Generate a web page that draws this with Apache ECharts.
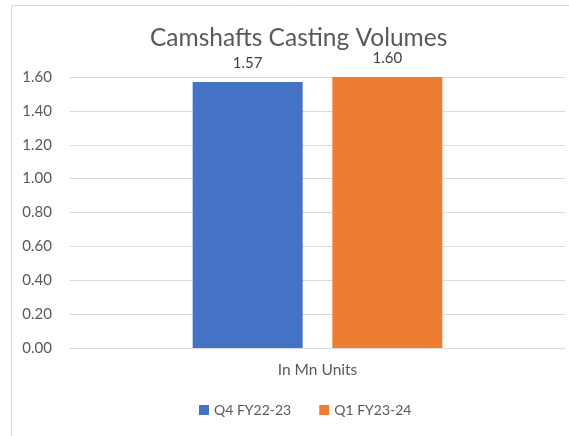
<!DOCTYPE html>
<html><head><meta charset="utf-8">
<script src="https://cdn.jsdelivr.net/npm/echarts@6/dist/echarts.min.js"></script>
<style>html,body{margin:0;padding:0;background:#fff;}#c{width:569px;height:436px;}</style>
</head><body><div id="c"></div>
<script>
const categories = ['In Mn Units'];
const seriesNames = ['Q4 FY22-23', 'Q1 FY23-24'];
const q4Values = [1.57];
const q1Values = [1.60];
const yTicks = [0, 0.2, 0.4, 0.6, 0.8, 1.0, 1.2, 1.4, 1.6];

const font = 'Lato, "Open Sans", sans-serif';
const chart = echarts.init(document.getElementById('c'));
chart.setOption({
  animation: false,
  graphic: [{type:'rect', shape:{x:11.5,y:5.5,width:600,height:500}, style:{fill:'none', stroke:'#d9d9d9', lineWidth:1}, silent:true}],
  title: {text:'Camshafts Casting Volumes', left:145, top:21, textStyle:{fontFamily:font, fontSize:24.5, fontWeight:'normal', color:'#595959'}},
  legend: {data: seriesNames, bottom:14, left:194, itemWidth:10, itemHeight:10, itemGap:28, icon:'rect',
    textStyle:{fontFamily:font, fontSize:14, color:'#595959'}},
  grid: {left:70, right:4, top:77, bottom:88, containLabel:false},
  xAxis: {type:'category', data:categories, axisLine:{lineStyle:{color:'#d9d9d9'}}, axisTick:{show:false},
    axisLabel:{fontFamily:font, fontSize:15.5, color:'#595959', margin:14}},
  yAxis: {type:'value', min:yTicks[0], max:yTicks[yTicks.length-1], interval:0.2,
    axisLine:{show:false}, axisTick:{show:false},
    splitLine:{lineStyle:{color:'#d9d9d9'}},
    axisLabel:{fontFamily:font, fontSize:15, color:'#595959', margin:18, formatter:v=>v.toFixed(2)}},
  series: [
    {name:seriesNames[0], type:'bar', data:q4Values, barWidth:110, barGap:'27%', itemStyle:{color:'#4472C4'},
      label:{show:true, position:'top', distance:11, formatter:p=>p.value.toFixed(2), fontFamily:font, fontSize:15, color:'#404040'}},
    {name:seriesNames[1], type:'bar', data:q1Values, barWidth:110, itemStyle:{color:'#ED7D31'},
      label:{show:true, position:'top', distance:11, formatter:p=>p.value.toFixed(2), fontFamily:font, fontSize:15, color:'#404040'}}
  ]
});
</script></body></html>
